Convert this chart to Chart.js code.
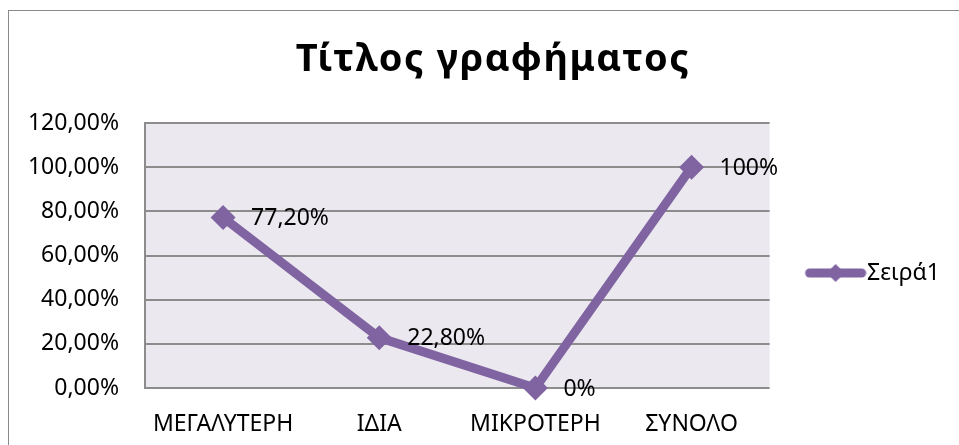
<!DOCTYPE html>
<html>
<head>
<meta charset="utf-8">
<script src="https://cdn.jsdelivr.net/npm/chart.js@4.4.1/dist/chart.umd.min.js"></script>
<style>
  html, body { margin: 0; padding: 0; background: #fff; overflow: hidden; }
  #frame { position: absolute; left: 8px; top: 10px; width: 1000px; height: 500px; border: 1px solid #8a8a8a; }
  #wrap { position: absolute; left: 0; top: 0; width: 959px; height: 445px; }
</style>
</head>
<body>
<div id="frame"></div>
<div id="wrap"><canvas id="myLineChart" width="959" height="445"></canvas></div>
<script>
let chartTitle = 'Τίτλος γραφήματος';
let seriesName = 'Σειρά1';
let categories = ['ΜΕΓΑΛΥΤΕΡΗ', 'ΙΔΙΑ', 'ΜΙΚΡΟΤΕΡΗ', 'ΣΥΝΟΛΟ'];
let values = [77.2, 22.8, 0, 100];
let valueLabels = ['77,20%', '22,80%', '0%', '100%'];
let yTicks = [0, 20, 40, 60, 80, 100, 120];

let purple = '#8064a2';
let font = "'Noto Sans', 'Open Sans', sans-serif";

// line + diamond used as the legend symbol (wider than the box so the line runs up to the text)
let legendMark = document.createElement('canvas');
legendMark.width = 82;
legendMark.height = 22;
let lm = legendMark.getContext('2d');
lm.strokeStyle = purple;
lm.lineWidth = 9;
lm.lineCap = 'round';
lm.beginPath();
lm.moveTo(25, 11);
lm.lineTo(77, 11);
lm.stroke();
lm.fillStyle = purple;
lm.beginPath();
lm.moveTo(51, 2);
lm.lineTo(60, 11);
lm.lineTo(51, 20);
lm.lineTo(42, 11);
lm.closePath();
lm.fill();

let plotBg = {
    id: 'plotBg',
    beforeDraw(chart) {
        let a = chart.chartArea;
        let c = chart.ctx;
        c.save();
        c.fillStyle = '#ebe8ef';
        c.fillRect(a.left, a.top, a.right - a.left, a.bottom - a.top);
        c.restore();
    }
};

// the legend sits a bit above the middle of its column
let legendNudge = {
    id: 'legendNudge',
    afterLayout(chart) {
        chart.legend.top -= 11;
        chart.legend.bottom -= 11;
    }
};

// bold title, a little spaced out
let bigTitle = {
    id: 'bigTitle',
    afterDraw(chart) {
        let c = chart.ctx;
        c.save();
        c.font = 'bold 38px ' + font;
        if ('letterSpacing' in c) c.letterSpacing = '1.6px';
        c.fillStyle = '#000';
        c.textAlign = 'left';
        c.textBaseline = 'alphabetic';
        let w = c.measureText(chartTitle).width;
        c.fillText(chartTitle, 493 - w / 2, 71);
        c.restore();
    }
};

let pointLabels = {
    id: 'pointLabels',
    afterDatasetsDraw(chart) {
        let c = chart.ctx;
        let meta = chart.getDatasetMeta(0);
        c.save();
        c.font = '23px ' + font;
        c.fillStyle = '#000';
        c.textAlign = 'left';
        c.textBaseline = 'middle';
        meta.data.forEach(function (p, i) {
            c.fillText(valueLabels[i], p.x + 28, p.y + 1);
        });
        c.restore();
    }
};

let ctx = document.getElementById('myLineChart').getContext('2d');
let myLineChart = new Chart(ctx, {
    type: 'line',
    data: {
        labels: categories,
        datasets: [{
            label: seriesName,
            data: values,
            borderColor: purple,
            backgroundColor: purple,
            borderWidth: 9,
            pointStyle: 'rectRot',
            pointRadius: 12.5,
            pointHoverRadius: 12.5,
            pointBackgroundColor: purple,
            pointBorderWidth: 0,
            tension: 0,
            clip: false,
        }]
    },
    options: {
        responsive: false,
        animation: false,
        layout: { padding: { left: 10, right: 9, top: 123, bottom: 0 } },
        plugins: {
            title: { display: false },
            legend: {
                position: 'right',
                labels: {
                    usePointStyle: true,
                    pointStyle: legendMark,
                    pointStyleWidth: 60,
                    color: '#000',
                    font: { family: font, size: 23 },
                    padding: 26,
                    generateLabels(chart) {
                        return [{
                            text: seriesName,
                            pointStyle: legendMark,
                            fillStyle: purple,
                            strokeStyle: purple,
                            lineWidth: 0,
                            datasetIndex: 0,
                        }];
                    }
                }
            },
            tooltip: { enabled: false },
        },
        scales: {
            x: {
                offset: true,
                grid: { display: false },
                border: { display: false },
                ticks: { color: '#000', font: { family: font, size: 23 }, padding: 15, maxRotation: 0 },
                afterFit(s) { s.height = 57; },
            },
            y: {
                min: 0,
                max: 120,
                afterBuildTicks(s) { s.ticks = yTicks.map(v => ({ value: v })); },
                grid: { color: '#8c8c8c', lineWidth: 2, drawTicks: false },
                border: { color: '#8c8c8c', width: 2 },
                ticks: {
                    color: '#000',
                    font: { family: font, size: 23 },
                    padding: 26,
                    callback: v => v.toFixed(2).replace('.', ',') + '%',
                },
                afterFit(s) { s.width = 135; },
            }
        }
    },
    plugins: [plotBg, legendNudge, pointLabels, bigTitle],
});
</script>
</body>
</html>
